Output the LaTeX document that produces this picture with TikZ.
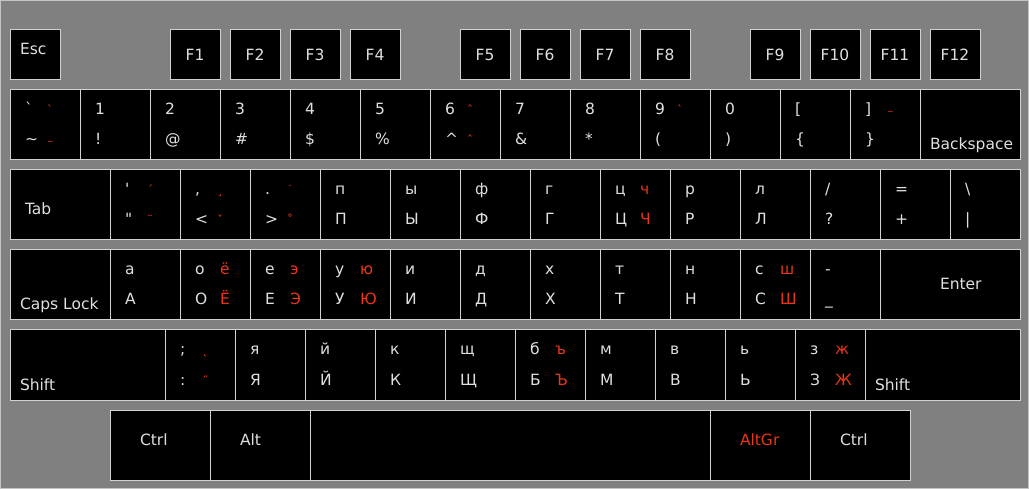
\documentclass[tikz,border=0pt]{standalone}
\usepackage{fontspec}
\setmainfont{DejaVu Sans}
\definecolor{bgc}{HTML}{808080}
\definecolor{frame}{HTML}{C4C4C4}
\definecolor{keyline}{HTML}{D2D2D2}
\definecolor{txt}{HTML}{E0E0E0}
\definecolor{redc}{HTML}{E8361A}
\tikzset{
  keybox/.style={draw=keyline, fill=black, line width=1pt, inner sep=0pt, outer sep=0pt, anchor=north west},
  lbl/.style={text=txt, inner sep=0pt, outer sep=0pt, font=\fontsize{15.5}{18}\selectfont},
  altlbl/.style={lbl, text=redc},
  deadlbl/.style={text=redc, inner sep=0pt, outer sep=0pt, font=\fontsize{12}{13}\selectfont},
}
\newcommand\smtilde{{\fontsize{8}{9}\selectfont\textasciitilde}}
% key rectangle: name, x, y, w, h
\newcommand\kK[5]{\node[keybox, minimum width=#4pt, minimum height=#5pt] (#1) at (#2,#3) {};}
% main characters
\newcommand\kT[3]{%
  \node[lbl, anchor=base west] (#1-t) at ([xshift=15pt,yshift=-25pt]#1.north west) {#2};
  \node[lbl, anchor=base west] (#1-b) at ([xshift=15pt,yshift=-55pt]#1.north west) {#3};}
% red AltGr characters
\newcommand\kR[3]{%
  \node[altlbl, anchor=base west] (#1-rt) at ([xshift=40pt,yshift=-25pt]#1.north west) {#2};
  \node[altlbl, anchor=base west] (#1-rb) at ([xshift=40pt,yshift=-55pt]#1.north west) {#3};}
% red dead keys
\newcommand\kD[3]{%
  \node[deadlbl, anchor=base west] (#1-dt) at ([xshift=37pt,yshift=-25pt]#1.north west) {#2};
  \node[deadlbl, anchor=base west] (#1-db) at ([xshift=37pt,yshift=-55pt]#1.north west) {#3};}
% free label: name, dx, baseline dy, text, style
\newcommand\kL[5]{\node[#5, anchor=base west] (#1-l) at ([xshift=#2pt,yshift=-#3pt]#1.north west) {#4};}

\begin{document}
\begin{tikzpicture}[x=1pt, y=-1pt]
\useasboundingbox (0,0) rectangle (1029,489);
\fill[bgc] (0,0) rectangle (1029,489);
\draw[frame, line width=1pt] (0.5,0.5) rectangle (1028.5,488.5);

% ---------- function row ----------
\kK{esc}{10}{30}{50}{50}
\kL{esc}{10}{25}{Esc}{lbl}
\foreach \n/\x in {1/170,2/230,3/290,4/350,5/460,6/520,7/580,8/640,9/750,10/810,11/870,12/930}{
  \kK{f\n}{\x}{30}{50}{50}
  \node[lbl] (f\n-l) at (f\n.center) {F\n};
}

% ---------- number row ----------
\kK{grave}{10}{90}{70}{70}
\kK{n1}{80}{90}{70}{70}
\kK{n2}{150}{90}{70}{70}
\kK{n3}{220}{90}{70}{70}
\kK{n4}{290}{90}{70}{70}
\kK{n5}{360}{90}{70}{70}
\kK{n6}{430}{90}{70}{70}
\kK{n7}{500}{90}{70}{70}
\kK{n8}{570}{90}{70}{70}
\kK{n9}{640}{90}{70}{70}
\kK{n0}{710}{90}{70}{70}
\kK{lbr}{780}{90}{70}{70}
\kK{rbr}{850}{90}{70}{70}
\kK{bksp}{920}{90}{100}{70}
\kT{grave}{\textasciigrave}{\textasciitilde}
\kD{grave}{ˋ}{\smtilde}
\kT{n1}{1}{!}
\kT{n2}{2}{@}
\kT{n3}{3}{\#}
\kT{n4}{4}{\$}
\kT{n5}{5}{\%}
\kT{n6}{6}{\textasciicircum}
\kD{n6}{ˆ}{ˆ}
\kT{n7}{7}{\&}
\kT{n8}{8}{*}
\kT{n9}{9}{(}
\kD{n9}{ˋ}{}
\kT{n0}{0}{)}
\kT{lbr}{[}{\{}
\kT{rbr}{]}{\}}
\kD{rbr}{\smtilde}{}
\kL{bksp}{10}{60}{Backspace}{lbl}

% ---------- tab row ----------
\kK{tab}{10}{170}{100}{70}
\kK{quote}{110}{170}{70}{70}
\kK{comma}{180}{170}{70}{70}
\kK{period}{250}{170}{70}{70}
\kK{kp}{320}{170}{70}{70}
\kK{ky}{390}{170}{70}{70}
\kK{kf}{460}{170}{70}{70}
\kK{kg}{530}{170}{70}{70}
\kK{kc}{600}{170}{70}{70}
\kK{kr}{670}{170}{70}{70}
\kK{kl}{740}{170}{70}{70}
\kK{slash}{810}{170}{70}{70}
\kK{equal}{880}{170}{70}{70}
\kK{bslash}{950}{170}{70}{70}
\kL{tab}{15}{45}{Tab}{lbl}
\kT{quote}{\textquotesingle}{\textquotedbl}
\kD{quote}{ˊ}{¨}
\kT{comma}{,}{<}
\kD{comma}{¸}{ˇ}
\kT{period}{.}{>}
\kD{period}{˙}{˚}
\kT{kp}{п}{П}
\kT{ky}{ы}{Ы}
\kT{kf}{ф}{Ф}
\kT{kg}{г}{Г}
\kT{kc}{ц}{Ц}
\kR{kc}{ч}{Ч}
\kT{kr}{р}{Р}
\kT{kl}{л}{Л}
\kT{slash}{/}{?}
\kT{equal}{=}{+}
\kT{bslash}{\textbackslash}{\textbar}

% ---------- caps row ----------
\kK{caps}{10}{250}{100}{70}
\kK{ka}{110}{250}{70}{70}
\kK{ko}{180}{250}{70}{70}
\kK{ke}{250}{250}{70}{70}
\kK{ku}{320}{250}{70}{70}
\kK{ki}{390}{250}{70}{70}
\kK{kd}{460}{250}{70}{70}
\kK{kh}{530}{250}{70}{70}
\kK{kt}{600}{250}{70}{70}
\kK{kn}{670}{250}{70}{70}
\kK{ks}{740}{250}{70}{70}
\kK{minus}{810}{250}{70}{70}
\kK{enter}{880}{250}{140}{70}
\kL{caps}{10}{60}{Caps Lock}{lbl}
\kT{ka}{а}{А}
\kT{ko}{о}{О}
\kR{ko}{ё}{Ё}
\kT{ke}{е}{Е}
\kR{ke}{э}{Э}
\kT{ku}{у}{У}
\kR{ku}{ю}{Ю}
\kT{ki}{и}{И}
\kT{kd}{д}{Д}
\kT{kh}{х}{Х}
\kT{kt}{т}{Т}
\kT{kn}{н}{Н}
\kT{ks}{с}{С}
\kR{ks}{ш}{Ш}
\kT{minus}{-}{\_}
\kL{enter}{60}{40}{Enter}{lbl}

% ---------- shift row ----------
\kK{lshift}{10}{330}{155}{70}
\kK{semi}{165}{330}{70}{70}
\kK{kya}{235}{330}{70}{70}
\kK{kj}{305}{330}{70}{70}
\kK{kk}{375}{330}{70}{70}
\kK{ksch}{445}{330}{70}{70}
\kK{kb}{515}{330}{70}{70}
\kK{km}{585}{330}{70}{70}
\kK{kv}{655}{330}{70}{70}
\kK{ksoft}{725}{330}{70}{70}
\kK{kz}{795}{330}{70}{70}
\kK{rshift}{865}{330}{155}{70}
\kL{lshift}{10}{60}{Shift}{lbl}
\kT{semi}{;}{:}
\kD{semi}{˛}{˝}
\kT{kya}{я}{Я}
\kT{kj}{й}{Й}
\kT{kk}{к}{К}
\kT{ksch}{щ}{Щ}
\kT{kb}{б}{Б}
\kR{kb}{ъ}{Ъ}
\kT{km}{м}{М}
\kT{kv}{в}{В}
\kT{ksoft}{ь}{Ь}
\kT{kz}{з}{З}
\kR{kz}{ж}{Ж}
\kL{rshift}{10}{60}{Shift}{lbl}

% ---------- bottom row ----------
\kK{lctrl}{110}{410}{100}{70}
\kK{lalt}{210}{410}{100}{70}
\kK{space}{310}{410}{400}{70}
\kK{altgr}{710}{410}{100}{70}
\kK{rctrl}{810}{410}{100}{70}
\kL{lctrl}{30}{35}{Ctrl}{lbl}
\kL{lalt}{30}{35}{Alt}{lbl}
\kL{altgr}{30}{35}{AltGr}{altlbl}
\kL{rctrl}{30}{35}{Ctrl}{lbl}
\end{tikzpicture}
\end{document}
